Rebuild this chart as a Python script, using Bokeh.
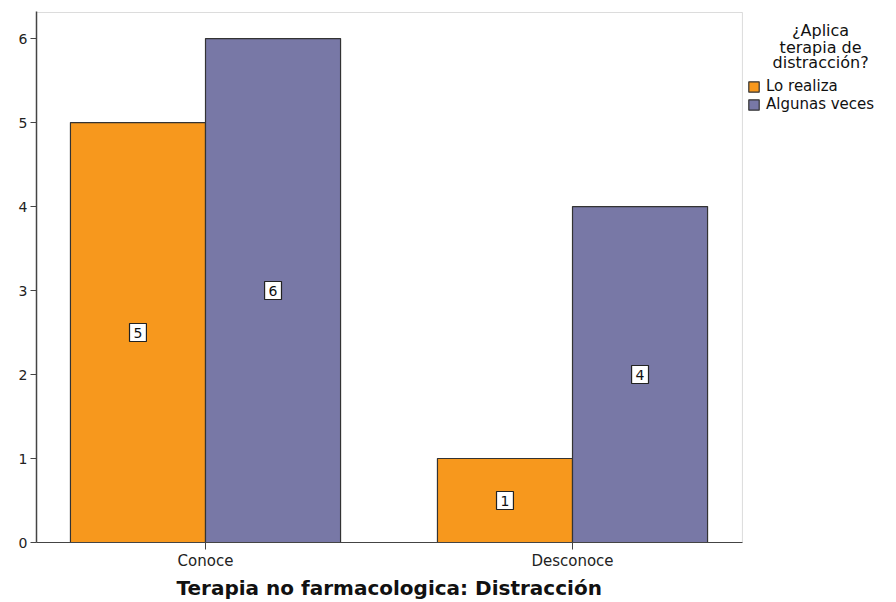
from bokeh.plotting import figure
from bokeh.models import (ColumnDataSource, Range1d, FixedTicker, Legend, LegendItem,
                          Label, BoxAnnotation, Title)
from bokeh.core.properties import value
from bokeh.embed import file_html
from bokeh.resources import INLINE

categories = ["Conoce", "Desconoce"]
series_names = ["Lo realiza", "Algunas veces"]
lo_realiza = [5, 1]
algunas_veces = [6, 4]
y_ticks = [0, 1, 2, 3, 4, 5, 6]
legend_title = ["¿Aplica", "terapia de", "distracción?"]
x_title = "Terapia no farmacologica: Distracción"

ORANGE = "#F7981D"
PURPLE = "#7878A6"
FONT = "DejaVu Sans"

W = 0.368
xs = list(range(len(categories)))
X0, X1 = -0.4605, 1.463      # extent of the drawn plot box
Y1 = 6.31

p = figure(width=896, height=602, output_backend="svg", toolbar_location=None,
           x_range=Range1d(X0, 1.8828), y_range=Range1d(0, 6.322),
           min_border_left=36, min_border_right=0, min_border_top=11, min_border_bottom=60)
p.background_fill_color = "white"
p.border_fill_color = "white"
p.outline_line_color = None
p.xgrid.visible = False
p.ygrid.visible = False

# plot box outline (top and right edges visible)
p.add_layout(BoxAnnotation(left=X0, right=X1, bottom=0, top=Y1, fill_alpha=0,
                           line_color="#8a8a8a", line_width=1, level="underlay"))

src1 = ColumnDataSource(dict(x=[x - W / 2 for x in xs], top=lo_realiza,
                             ly=[v / 2 for v in lo_realiza], lab=[str(v) for v in lo_realiza]))
src2 = ColumnDataSource(dict(x=[x + W / 2 for x in xs], top=algunas_veces,
                             ly=[v / 2 for v in algunas_veces], lab=[str(v) for v in algunas_veces]))

r1 = p.vbar(x="x", top="top", bottom=0, width=W, source=src1, fill_color=ORANGE,
            line_color="#333333", line_width=1.2)
r2 = p.vbar(x="x", top="top", bottom=0, width=W, source=src2, fill_color=PURPLE,
            line_color="#333333", line_width=1.2)

for src in (src1, src2):
    p.text(x="x", y="ly", text="lab", source=src, text_align="center",
           text_baseline="middle", text_font=value(FONT), text_font_size="14px",
           text_color="#111111", background_fill_color="white",
           border_line_color="#222222", border_line_width=1.2, padding=4)

# axes
p.xaxis.bounds = (X0, X1)
p.xaxis.ticker = FixedTicker(ticks=xs)
p.xaxis.major_label_overrides = {i: c for i, c in enumerate(categories)}
p.xaxis.major_label_text_font = FONT
p.xaxis.major_label_text_font_size = "15px"
p.xaxis.major_label_text_color = "#222222"
p.xaxis.major_label_standoff = 2
p.xaxis.major_tick_out = 7
p.xaxis.major_tick_in = 0
p.xaxis.minor_tick_line_color = None
p.xaxis.axis_line_color = "#444444"
p.xaxis.major_tick_line_color = "#444444"

# x-axis title, centred under the plot box
p.add_layout(Title(text=x_title, align="left", offset=140, text_font=FONT,
                   text_font_style="bold", text_font_size="20px", text_color="#111111",
                   standoff=2), "below")

p.yaxis.ticker = FixedTicker(ticks=y_ticks)
p.yaxis.major_label_text_font = FONT
p.yaxis.major_label_text_font_size = "14px"
p.yaxis.major_label_text_color = "#222222"
p.yaxis.major_label_standoff = 3
p.yaxis.major_tick_out = 6
p.yaxis.major_tick_in = 0
p.yaxis.minor_tick_line_color = None
p.yaxis.axis_line_color = "#444444"
p.yaxis.axis_line_width = 1.5
p.yaxis.major_tick_line_color = "#444444"

# legend to the right of the plot box
legend = Legend(items=[LegendItem(label=series_names[0], renderers=[r1]),
                       LegendItem(label=series_names[1], renderers=[r2])],
                location=(711, 429), orientation="vertical")
legend.label_text_font = FONT
legend.label_text_font_size = "15px"
legend.label_text_line_height = 0.9
legend.label_text_color = "#111111"
legend.glyph_width = 13
legend.glyph_height = 13
legend.label_height = 13
legend.label_standoff = 6
legend.spacing = 0
legend.padding = 0
legend.margin = 0
legend.border_line_color = None
legend.background_fill_alpha = 0
p.add_layout(legend)

title_y = [6.095, 5.893, 5.714]
for t, yy in zip(legend_title, title_y):
    p.add_layout(Label(x=1.676, y=yy, text=t, text_align="center", text_baseline="middle",
                       text_font=FONT, text_font_size="16px", text_color="#111111"))

open("out.html", "w").write(file_html(p, INLINE))
